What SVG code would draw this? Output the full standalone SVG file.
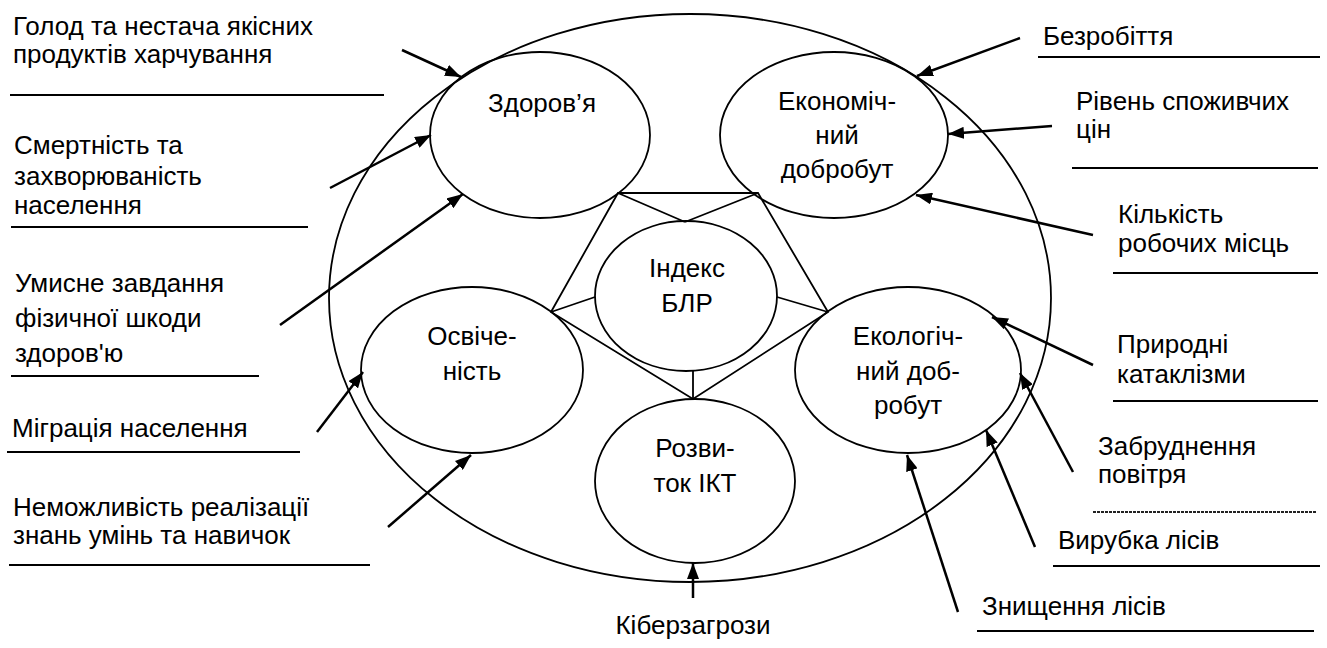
<svg xmlns="http://www.w3.org/2000/svg" width="1327" height="648" viewBox="0 0 1327 648">
<style>
text{font-family:"Liberation Sans",Arial,"DejaVu Sans",sans-serif;font-size:26px;fill:#000}
.n{text-anchor:middle}
.el{fill:none;stroke:#000;stroke-width:1.8}
.ar{stroke:#000;stroke-width:2.5;fill:none;marker-end:url(#ah)}
.ul{stroke:#000;stroke-width:2}
.pl{stroke:#000;stroke-width:1.8;fill:none}
</style>
<defs>
<marker id="ah" viewBox="0 0 16 12" refX="16" refY="6" markerWidth="16" markerHeight="12" markerUnits="userSpaceOnUse" orient="auto">
<path d="M0,0 L16,6 L0,12 z" fill="#000"/>
</marker>
</defs>
<rect width="1327" height="648" fill="#fff"/>

<g id="outer"><ellipse class="el" cx="690" cy="298" rx="361" ry="284"/></g>

<g id="connectors">
<polygon class="pl" points="618,193 758,193 828,312 693,399 551,312"/>
<line class="pl" x1="618" y1="193" x2="685" y2="222"/>
<line class="pl" x1="758" y1="193" x2="685" y2="222"/>
<line class="pl" x1="595" y1="297" x2="551" y2="312"/>
<line class="pl" x1="777" y1="297" x2="828" y2="312"/>
<line class="pl" x1="693" y1="371" x2="693" y2="399"/>
<line class="ar" x1="402" y1="50" x2="461" y2="77"/>
<line class="ar" x1="330" y1="188" x2="431" y2="135"/>
<line class="ar" x1="280" y1="325" x2="463" y2="194"/>
<line class="ar" x1="317" y1="432" x2="363" y2="372"/>
<line class="ar" x1="388" y1="527" x2="471" y2="455"/>
<line class="ar" x1="693" y1="598" x2="693" y2="563"/>
<line class="ar" x1="1020" y1="38" x2="917" y2="76"/>
<line class="ar" x1="1052" y1="126" x2="948" y2="134"/>
<line class="ar" x1="1093" y1="235" x2="916" y2="195"/>
<line class="ar" x1="1093" y1="365" x2="992" y2="317"/>
<line class="ar" x1="1073" y1="472" x2="1020" y2="373"/>
<line class="ar" x1="1035" y1="547" x2="986" y2="430"/>
<line class="ar" x1="958" y1="612" x2="907" y2="455"/>
</g>

<g id="health"><ellipse class="el" cx="540" cy="135" rx="110" ry="83"/><text class="n" x="542" y="112">Здоров’я</text></g>
<g id="economic"><ellipse class="el" cx="834" cy="135" rx="114" ry="83"/><text class="n" x="837" y="110">Економіч-</text><text class="n" x="837" y="144">ний</text><text class="n" x="837" y="178">добробут</text></g>
<g id="index"><ellipse class="el" cx="686" cy="296" rx="91" ry="75"/><text class="n" x="687" y="277">Індекс</text><text class="n" x="687" y="312">БЛР</text></g>
<g id="education"><ellipse class="el" cx="472" cy="370" rx="111" ry="83"/><text class="n" x="472" y="345">Освіче-</text><text class="n" x="472" y="380">ність</text></g>
<g id="ecology"><ellipse class="el" cx="908" cy="370" rx="113" ry="83"/><text class="n" x="908" y="345">Екологіч-</text><text class="n" x="908" y="380">ний доб-</text><text class="n" x="908" y="414">робут</text></g>
<g id="ict"><ellipse class="el" cx="695" cy="481" rx="100" ry="82"/><text class="n" x="695" y="457">Розви-</text><text class="n" x="695" y="492">ток ІКТ</text></g>

<g id="label-hunger"><text x="13" y="35">Голод та нестача якісних</text><text x="13" y="63">продуктів харчування</text><line class="ul" x1="10" y1="95" x2="384" y2="95"/></g>
<g id="label-mortality"><text x="14" y="154">Смертність та</text><text x="14" y="185">захворюваність</text><text x="14" y="214">населення</text><line class="ul" x1="11" y1="227" x2="308" y2="227"/></g>
<g id="label-harm"><text x="15" y="292">Умисне завдання</text><text x="15" y="327">фізичної  шкоди</text><text x="15" y="362">здоров'ю</text><line class="ul" x1="11" y1="376" x2="259" y2="376"/></g>
<g id="label-migration"><text x="12" y="437">Міграція населення</text><line class="ul" x1="7" y1="452" x2="300" y2="452"/></g>
<g id="label-skills"><text x="13" y="516">Неможливість реалізації</text><text x="13" y="544">знань умінь та навичок</text><line class="ul" x1="9" y1="565" x2="370" y2="565"/></g>
<g id="label-cyber"><text class="n" x="693" y="634">Кіберзагрози</text></g>
<g id="label-unemployment"><text x="1043" y="45">Безробіття</text><line class="ul" x1="1038" y1="57" x2="1320" y2="57"/></g>
<g id="label-prices"><text x="1076" y="110">Рівень споживчих</text><text x="1076" y="138">цін</text><line class="ul" x1="1072" y1="168" x2="1318" y2="168"/></g>
<g id="label-jobs"><text x="1118" y="223">Кількість</text><text x="1118" y="252">робочих місць</text><line class="ul" x1="1113" y1="273" x2="1318" y2="273"/></g>
<g id="label-disasters"><text x="1117" y="353">Природні</text><text x="1117" y="383">катаклізми</text><line class="ul" x1="1113" y1="401" x2="1318" y2="401"/></g>
<g id="label-air"><text x="1098" y="455">Забруднення</text><text x="1098" y="483">повітря</text><line x1="1093" y1="512" x2="1317" y2="512" stroke="#222" stroke-width="1.8" stroke-dasharray="3,1"/></g>
<g id="label-logging"><text x="1058" y="549">Вирубка лісів</text><line class="ul" x1="1053" y1="566" x2="1320" y2="566"/></g>
<g id="label-forest"><text x="982" y="615">Знищення лісів</text><line class="ul" x1="977" y1="631" x2="1314" y2="631"/></g>
</svg>
